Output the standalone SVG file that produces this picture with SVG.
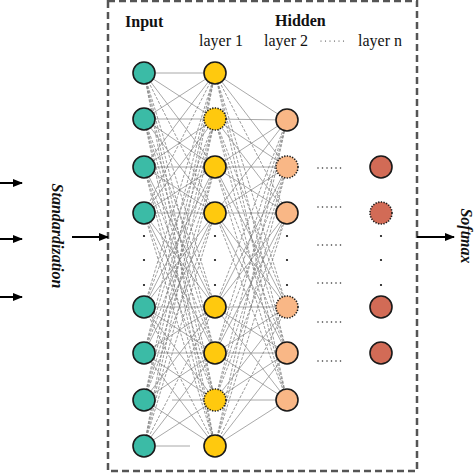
<svg xmlns="http://www.w3.org/2000/svg" width="474" height="474" viewBox="0 0 474 474">
<style>
.bg{fill:#ffffff}
.box{fill:none;stroke:#555555;stroke-width:2.5;stroke-dasharray:7 4}
.sl{stroke:#8c8c8c;stroke-width:0.75;fill:none}
.dl{stroke:#7a7a7a;stroke-width:0.75;fill:none;stroke-dasharray:3 1.5}
.node{stroke:#1a1a1a;stroke-width:1.6}
.dot{stroke-dasharray:1.3 1.4}
.in{fill:#3bbba6}
.h1{fill:#ffc90e}
.h2{fill:#f9b786}
.hn{fill:#d26b56}
.vd{fill:#111111}
.hd{stroke:#333333;stroke-width:1.6;stroke-linecap:round;stroke-dasharray:0 4.5;fill:none}
.arr{stroke:#000000;stroke-width:2;fill:none;marker-end:url(#ah)}
.t{font-family:"Liberation Serif","Times New Roman",serif;font-size:16px;fill:#111111}
.b{font-weight:bold}
.bi{font-weight:bold;font-style:italic}
</style>
<defs>
<marker id="ah" markerUnits="userSpaceOnUse" markerWidth="10" markerHeight="8" refX="9" refY="4" orient="auto">
<path d="M0,0 L10,4 L0,8 z" fill="#000000"/>
</marker>
</defs>
<rect class="bg" x="0" y="0" width="474" height="474"/>
<rect class="box" x="108" y="1" width="309" height="470"/>

<g id="connectors">
<g id="input-layer1-solid" class="sl">
<line x1="144" y1="73" x2="215" y2="73"/><line x1="144" y1="73" x2="215" y2="119"/><line x1="144" y1="73" x2="215" y2="167"/>
<line x1="144" y1="119" x2="215" y2="73"/><line x1="144" y1="119" x2="215" y2="119"/><line x1="144" y1="119" x2="215" y2="167"/><line x1="144" y1="119" x2="215" y2="213"/>
<line x1="144" y1="167" x2="215" y2="73"/><line x1="144" y1="167" x2="215" y2="119"/><line x1="144" y1="167" x2="215" y2="167"/><line x1="144" y1="167" x2="215" y2="213"/><line x1="144" y1="167" x2="215" y2="307"/>
<line x1="144" y1="213" x2="215" y2="119"/><line x1="144" y1="213" x2="215" y2="167"/><line x1="144" y1="213" x2="215" y2="213"/><line x1="144" y1="213" x2="215" y2="307"/><line x1="144" y1="213" x2="215" y2="353"/>
<line x1="144" y1="307" x2="215" y2="167"/><line x1="144" y1="307" x2="215" y2="213"/><line x1="144" y1="307" x2="215" y2="307"/><line x1="144" y1="307" x2="215" y2="353"/><line x1="144" y1="307" x2="215" y2="400"/>
<line x1="144" y1="353" x2="215" y2="213"/><line x1="144" y1="353" x2="215" y2="307"/><line x1="144" y1="353" x2="215" y2="353"/><line x1="144" y1="353" x2="215" y2="400"/><line x1="144" y1="353" x2="215" y2="446"/>
<line x1="144" y1="400" x2="215" y2="307"/><line x1="144" y1="400" x2="215" y2="353"/><line x1="172" y1="400" x2="215" y2="400"/><line x1="144" y1="400" x2="215" y2="446"/>
<line x1="144" y1="446" x2="215" y2="353"/><line x1="144" y1="446" x2="215" y2="400"/><line x1="144" y1="446" x2="190" y2="446"/>
</g>
<g id="input-layer1-dashed" class="dl">
<line x1="144" y1="73" x2="215" y2="213"/><line x1="144" y1="73" x2="215" y2="307"/><line x1="144" y1="73" x2="215" y2="353"/><line x1="144" y1="73" x2="215" y2="400"/><line x1="144" y1="73" x2="215" y2="446"/>
<line x1="144" y1="119" x2="215" y2="307"/><line x1="144" y1="119" x2="215" y2="353"/><line x1="144" y1="119" x2="215" y2="400"/><line x1="144" y1="119" x2="215" y2="446"/>
<line x1="144" y1="167" x2="215" y2="353"/><line x1="144" y1="167" x2="215" y2="400"/><line x1="144" y1="167" x2="215" y2="446"/>
<line x1="144" y1="213" x2="215" y2="73"/><line x1="144" y1="213" x2="215" y2="400"/><line x1="144" y1="213" x2="215" y2="446"/>
<line x1="144" y1="307" x2="215" y2="73"/><line x1="144" y1="307" x2="215" y2="119"/><line x1="144" y1="307" x2="215" y2="446"/>
<line x1="144" y1="353" x2="215" y2="73"/><line x1="144" y1="353" x2="215" y2="119"/><line x1="144" y1="353" x2="215" y2="167"/>
<line x1="144" y1="400" x2="215" y2="73"/><line x1="144" y1="400" x2="215" y2="119"/><line x1="144" y1="400" x2="215" y2="167"/><line x1="144" y1="400" x2="215" y2="213"/>
<line x1="144" y1="446" x2="215" y2="73"/><line x1="144" y1="446" x2="215" y2="119"/><line x1="144" y1="446" x2="215" y2="167"/><line x1="144" y1="446" x2="215" y2="213"/><line x1="144" y1="446" x2="215" y2="307"/>
</g>
<g id="layer1-layer2-solid" class="sl">
<line x1="215" y1="73" x2="287" y2="120"/><line x1="215" y1="73" x2="287" y2="167"/>
<line x1="215" y1="119" x2="287" y2="120"/><line x1="215" y1="119" x2="287" y2="167"/><line x1="215" y1="119" x2="287" y2="213"/>
<line x1="215" y1="167" x2="287" y2="120"/><line x1="215" y1="167" x2="287" y2="167"/><line x1="215" y1="167" x2="287" y2="213"/><line x1="215" y1="167" x2="287" y2="307"/>
<line x1="215" y1="213" x2="287" y2="120"/><line x1="215" y1="213" x2="287" y2="167"/><line x1="215" y1="213" x2="287" y2="213"/><line x1="215" y1="213" x2="287" y2="307"/><line x1="215" y1="213" x2="287" y2="353"/>
<line x1="215" y1="307" x2="287" y2="167"/><line x1="215" y1="307" x2="287" y2="213"/><line x1="215" y1="307" x2="287" y2="307"/><line x1="215" y1="307" x2="287" y2="353"/><line x1="215" y1="307" x2="287" y2="400"/>
<line x1="215" y1="353" x2="287" y2="213"/><line x1="215" y1="353" x2="287" y2="307"/><line x1="215" y1="353" x2="287" y2="353"/><line x1="215" y1="353" x2="287" y2="400"/>
<line x1="215" y1="400" x2="287" y2="307"/><line x1="215" y1="400" x2="287" y2="353"/><line x1="215" y1="400" x2="287" y2="400"/>
<line x1="215" y1="446" x2="287" y2="353"/><line x1="215" y1="446" x2="287" y2="400"/>
</g>
<g id="layer1-layer2-dashed" class="dl">
<line x1="215" y1="73" x2="287" y2="213"/><line x1="215" y1="73" x2="287" y2="307"/><line x1="215" y1="73" x2="287" y2="353"/><line x1="215" y1="73" x2="287" y2="400"/>
<line x1="215" y1="119" x2="287" y2="307"/><line x1="215" y1="119" x2="287" y2="353"/><line x1="215" y1="119" x2="287" y2="400"/>
<line x1="215" y1="167" x2="287" y2="353"/><line x1="215" y1="167" x2="287" y2="400"/>
<line x1="215" y1="213" x2="287" y2="400"/>
<line x1="215" y1="307" x2="287" y2="120"/>
<line x1="215" y1="353" x2="287" y2="120"/><line x1="215" y1="353" x2="287" y2="167"/>
<line x1="215" y1="400" x2="287" y2="120"/><line x1="215" y1="400" x2="287" y2="167"/><line x1="215" y1="400" x2="287" y2="213"/>
<line x1="215" y1="446" x2="287" y2="120"/><line x1="215" y1="446" x2="287" y2="167"/><line x1="215" y1="446" x2="287" y2="213"/><line x1="215" y1="446" x2="287" y2="307"/>
</g>
<g id="layer2-layern-dots">
<line class="hd" x1="318" y1="168" x2="341" y2="168"/>
<line class="hd" x1="318" y1="207" x2="341" y2="207"/>
<line class="hd" x1="318" y1="245" x2="341" y2="245"/>
<line class="hd" x1="318" y1="283" x2="341" y2="283"/>
<line class="hd" x1="318" y1="322" x2="341" y2="322"/>
<line class="hd" x1="318" y1="361" x2="341" y2="361"/>
</g>
<g id="arrows">
<line class="arr" x1="-2" y1="183" x2="22" y2="183"/>
<line class="arr" x1="-2" y1="239" x2="22" y2="239"/>
<line class="arr" x1="-2" y1="297" x2="22" y2="297"/>
<line class="arr" x1="72" y1="237" x2="108" y2="237"/>
<line class="arr" x1="417" y1="237" x2="454" y2="237"/>
</g>
</g>

<g id="input-layer">
<circle class="node in" cx="144" cy="73" r="11"/>
<circle class="node in" cx="144" cy="119" r="11"/>
<circle class="node in" cx="144" cy="167" r="11"/>
<circle class="node in" cx="144" cy="213" r="11"/>
<circle class="vd" cx="144" cy="236" r="1.1"/><circle class="vd" cx="144" cy="260" r="1.1"/><circle class="vd" cx="144" cy="285" r="1.1"/>
<circle class="node in" cx="144" cy="307" r="11"/>
<circle class="node in" cx="144" cy="353" r="11"/>
<circle class="node in" cx="144" cy="400" r="11"/>
<circle class="node in" cx="144" cy="446" r="11"/>
</g>
<g id="hidden-layer-1">
<circle class="node h1" cx="215" cy="73" r="11"/>
<circle class="node h1 dot" cx="215" cy="119" r="11"/>
<circle class="node h1" cx="215" cy="167" r="11"/>
<circle class="node h1" cx="215" cy="213" r="11"/>
<circle class="vd" cx="215" cy="236" r="1.1"/><circle class="vd" cx="215" cy="260" r="1.1"/><circle class="vd" cx="215" cy="285" r="1.1"/>
<circle class="node h1" cx="215" cy="307" r="11"/>
<circle class="node h1" cx="215" cy="353" r="11"/>
<circle class="node h1 dot" cx="215" cy="400" r="11"/>
<circle class="node h1" cx="215" cy="446" r="11"/>
</g>
<g id="hidden-layer-2">
<circle class="node h2" cx="287" cy="120" r="11"/>
<circle class="node h2 dot" cx="287" cy="167" r="11"/>
<circle class="node h2" cx="287" cy="213" r="11"/>
<circle class="vd" cx="287" cy="236" r="1.1"/><circle class="vd" cx="287" cy="260" r="1.1"/><circle class="vd" cx="287" cy="285" r="1.1"/>
<circle class="node h2 dot" cx="287" cy="307" r="11"/>
<circle class="node h2" cx="287" cy="353" r="11"/>
<circle class="node h2" cx="287" cy="400" r="11"/>
</g>
<g id="hidden-layer-n">
<circle class="node hn" cx="381" cy="167" r="11"/>
<circle class="node hn dot" cx="381" cy="213" r="11"/>
<circle class="vd" cx="381" cy="236" r="1.1"/><circle class="vd" cx="381" cy="260" r="1.1"/><circle class="vd" cx="381" cy="285" r="1.1"/>
<circle class="node hn" cx="381" cy="307" r="11"/>
<circle class="node hn" cx="381" cy="353" r="11"/>
</g>

<g id="labels">
<text class="t b" x="125" y="27">Input</text>
<text class="t b" x="275" y="26">Hidden</text>
<text class="t" x="199" y="46">layer 1</text>
<text class="t" x="264" y="46">layer 2</text>
<line class="hd" x1="321" y1="41" x2="344" y2="41" style="stroke-width:1.2;stroke-dasharray:0 4.5"/>
<text class="t" x="358" y="46">layer n</text>
<text class="t bi" x="0" y="0" text-anchor="middle" transform="translate(52,236) rotate(90)">Standardization</text>
<text class="t bi" x="0" y="0" text-anchor="middle" transform="translate(461,236) rotate(90)">Softmax</text>
</g>
</svg>
